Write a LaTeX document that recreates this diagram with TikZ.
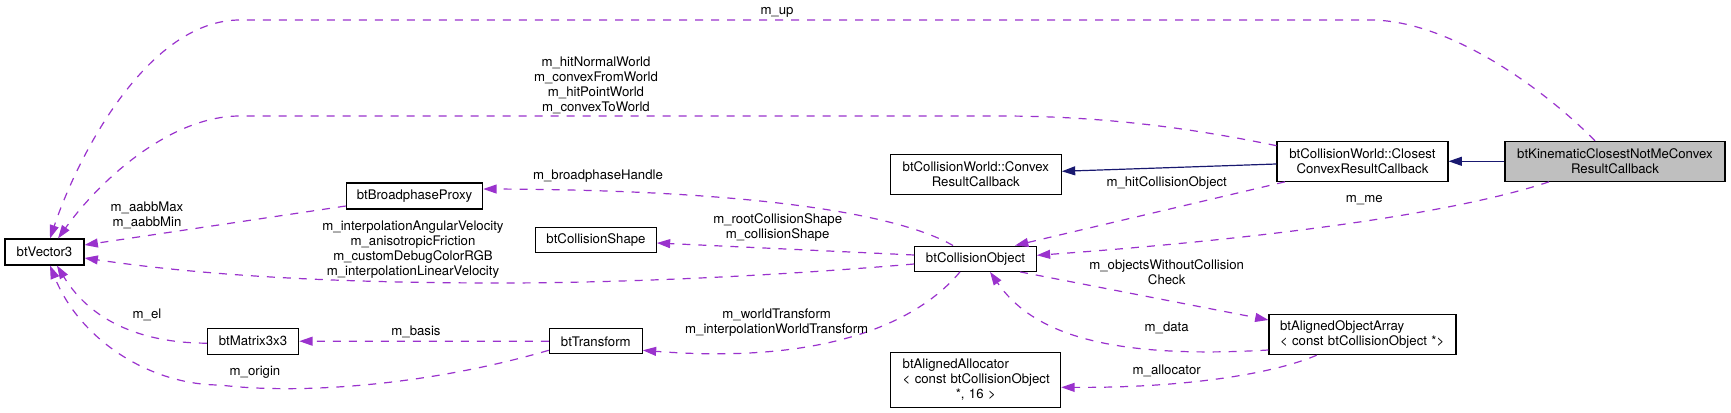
\documentclass[tikz,border=0pt]{standalone}
\usepackage{fontspec}
\setmainfont{TeX Gyre Heros}
\usetikzlibrary{arrows.meta,calc}
\definecolor{orchid}{HTML}{9A32CD}
\definecolor{navyb}{HTML}{191970}
\definecolor{greyfill}{HTML}{BFBFBF}
\begin{document}
\begin{tikzpicture}[x=0.75pt,y=-0.75pt,
  every node/.style={font=\fontsize{9.9}{11.1}\selectfont, inner sep=0pt},
  box/.style 2 args={draw=black, line width=0.8pt, minimum width=#1*0.75pt, minimum height=#2*0.75pt, align=center},
  lbl/.style={align=center},
  ref/.style={draw=orchid, line width=0.9pt, dash pattern=on 6pt off 6pt, -{Triangle[length=10pt,width=6.7pt]}},
  inh/.style={draw=navyb, line width=0.9pt, -{Triangle[length=10pt,width=6.7pt]}}]
\useasboundingbox (0,0) rectangle (1731,413);

% nodes
\node[box={79}{26}] (vec) at (44.5,252) {btVector3};
\node[box={136.4}{26}] (proxy) at (414.5,196) {btBroadphaseProxy};
\node[box={120.6}{25.4}] (shape) at (596,240) {btCollisionShape};
\node[box={91.4}{25.7}] (mat) at (253,341.2) {btMatrix3x3};
\node[box={93}{25.3}] (trans) at (595.8,341.3) {btTransform};
\node[box={171}{39.6}] (conv) at (975.8,174.5) {btCollisionWorld::Convex\\ResultCallback};
\node[box={121.6}{25.3}] (obj) at (975.5,258.7) {btCollisionObject};
\node[box={169.7}{54.7}, text width=146.3*0.75pt, align=left] (alloc) at (975.8,379.7)
  {btAlignedAllocator\\\mbox{< const btCollisionObject}\\\makebox[109.7pt]{*, 16 >}};
\node[box={171}{40}] (closest) at (1362.5,161.3) {btCollisionWorld::Closest\\ConvexResultCallback};
\node[box={187}{40}, text width=165*0.75pt, align=left] (arr) at (1362.5,334.7)
  {btAlignedObjectArray\\\mbox{< const btCollisionObject *>}};
\node[box={220}{40}, fill=greyfill] (kin) at (1615,161.3) {btKinematicClosestNotMeConvex\\ResultCallback};

% inheritance
\draw[inh] (kin.west) -- (closest.east);
\draw[inh] ($(closest.west)+(0,2.7)$) -- ($(conv.east)+(0,-3.2)$);

% m_up
\coordinate (up1) at (1370,20);
\coordinate (up2) at (240,20);
\draw[ref] ($(kin.north)+(-20,0)$) .. controls (1545,90) and (1450,20) .. (up1) -- (up2)
  .. controls (150,20) and (80,150) .. ($(vec.north)+(5.5,0)$);
\node[lbl] (lup) at (777,12) {m\_up};

% hit*
\coordinate (h1) at (1000,116);
\coordinate (h2) at (240,116);
\draw[ref] ($(closest.west)+(0,-15.6)$) .. controls (1200,130) and (1110,116) .. (h1) -- (h2)
  .. controls (170,116) and (100,180) .. ($(vec.north)+(13.5,0)$);
\node[lbl] (lhit) at (596,85.3) {m\_hitNormalWorld\\m\_convexFromWorld\\m\_hitPointWorld\\m\_convexToWorld};

% broadphase
\draw[ref] ($(obj.north)+(-22.5,0)$) .. controls (900,215) and (760,190) .. ($(proxy.east)+(0,-7)$);
\node[lbl] (lbroad) at (598,176.3) {m\_broadphaseHandle};

% aabb
\draw[ref] ($(proxy.west)+(0,10)$) -- ($(vec.east)+(0,-7)$);
\node[lbl] (laabb) at (147,215) {m\_aabbMax\\m\_aabbMin};

% collision shape
\draw[ref] ($(obj.west)+(0,-3.7)$) -- ($(shape.east)+(0,3)$);
\node[lbl] (lshape) at (777.7,227.8) {m\_rootCollisionShape\\m\_collisionShape};

% interpolation
\coordinate (ip) at (500,283);
\draw[ref] ($(obj.west)+(0,5.3)$) .. controls (750,278) and (600,283) .. (ip)
  .. controls (300,283) and (180,272) .. ($(vec.east)+(0,6)$);
\node[lbl] (linterp) at (413,249.8) {m\_interpolationAngularVelocity\\m\_anisotropicFriction\\m\_customDebugColorRGB\\m\_interpolationLinearVelocity};

% hit collision object
\draw[ref] ($(closest.south)+(-77.5,0)$) -- ($(obj.north)+(39.5,0)$);
\node[lbl] (lhco) at (1166.7,183.3) {m\_hitCollisionObject};

% m_me
\draw[ref] ($(kin.south)+(-66,0)$) .. controls (1450,215) and (1250,240) .. ($(obj.east)+(0,-3.4)$);
\node[lbl] (lme) at (1364.3,199.7) {m\_me};

% objects without collision check
\draw[ref] ($(obj.south)+(44.5,0)$) -- ($(arr.west)+(0,-14.7)$);
\node[lbl] (lowc) at (1166.7,271.8) {m\_objectsWithoutCollision\\Check};

% m_data
\draw[ref] ($(arr.west)+(0,15.3)$) .. controls (1100,360) and (1030,330) .. ($(obj.south)+(14.5,0)$);
\node[lbl] (ldata) at (1166.7,327.7) {m\_data};

% m_allocator
\draw[ref] ($(arr.south)+(-45.8,0)$) .. controls (1270,375) and (1180,388) .. ($(alloc.east)+(0,7.6)$);
\node[lbl] (lalloc) at (1166.7,370.7) {m\_allocator};

% world transform
\draw[ref] ($(obj.south)+(-15.5,0)$) .. controls (920,320) and (830,365) .. ($(trans.east)+(0,9)$);
\node[lbl] (lworld) at (776.7,322.8) {m\_worldTransform\\m\_interpolationWorldTransform};

% basis
\draw[ref] (trans.west) -- (mat.east);
\node[lbl] (lbasis) at (416,332) {m\_basis};

% m_el
\draw[ref] ($(mat.west)+(0,2)$) .. controls (140,343) and (90,320) .. ($(vec.south)+(12.5,0)$);
\node[lbl] (lel) at (147,315.3) {m\_el};

% m_origin
\coordinate (or1) at (220,385);
\draw[ref] ($(trans.west)+(0,9)$) .. controls (430,385) and (300,395) .. (or1)
  .. controls (150,385) and (80,340) .. ($(vec.south)+(5.5,0)$);
\node[lbl] (lorigin) at (255,372.7) {m\_origin};
\end{tikzpicture}
\end{document}
